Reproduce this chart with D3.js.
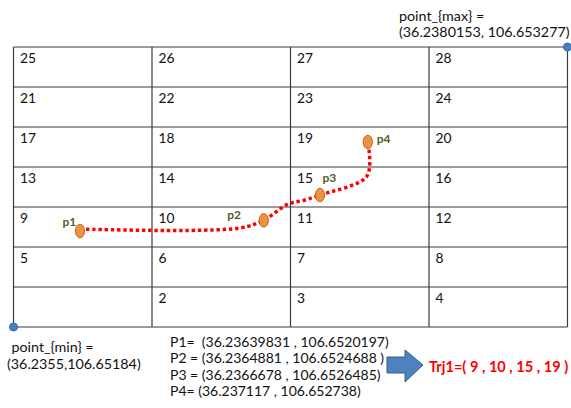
<!DOCTYPE html>
<html><head><meta charset="utf-8">
<script src="https://cdn.jsdelivr.net/npm/d3@7"></script>
<style>
html,body{margin:0;padding:0;background:#fff;}
svg{display:block;font-family:Lato,"Open Sans",sans-serif;}
</style></head>
<body>
<svg id="chart" width="571" height="408"></svg>
<script>
// ---- data ----
const nCols = 4, nRows = 7;
const cellLabels = ["", "2", "3", "4", "5", "6", "7", "8", "9", "10", "11", "12",
  "13", "14", "15", "16", "17", "18", "19", "20", "21", "22", "23", "24", "25", "26", "27", "28"];
const pointNames = ["p1", "p2", "p3", "p4"];
const pointGX = [0.480, 1.807, 2.213, 2.558];
const pointGY = [2.40, 2.667, 3.30, 4.625];
const pathGX = [0.480, 1.635, 1.809, 1.982, 2.105, 2.213, 2.552, 2.558];
const pathGY = [2.45, 2.475, 2.675, 3.075, 3.175, 3.30, 3.775, 4.625];
const coordLines = [
  "P1=  (36.23639831 , 106.6520197)",
  "P2 = (36.2364881 , 106.6524688 )",
  "P3 = (36.2366678 , 106.6526485)",
  "P4= (36.237117 , 106.652738)"
];
const minText = ["point_{min} =", "(36.2355,106.65184)"];
const maxText = ["point_{max} =", "(36.2380153, 106.653277)"];
const trjText = "Trj1=( 9 , 10 , 15 , 19 )";

// ---- drawing ----
const svg = d3.select("#chart");
const x = d3.scaleLinear().domain([0, nCols]).range([13.5, 567.5]);
const y = d3.scaleLinear().domain([0, nRows]).range([327, 47]);

// grid lines
const g = svg.append("g");
g.selectAll("line.v").data(d3.range(nCols + 1)).enter().append("line")
  .attr("x1", d => x(d)).attr("x2", d => x(d)).attr("y1", y(0)).attr("y2", y(nRows))
  .attr("stroke", "#3a3a3a").attr("stroke-width", 1.2);
g.selectAll("line.h").data(d3.range(nRows + 1)).enter().append("line")
  .attr("y1", d => y(d)).attr("y2", d => y(d)).attr("x1", x(0)).attr("x2", x(nCols))
  .attr("stroke", "#3a3a3a").attr("stroke-width", 1.2);

// cell labels
g.selectAll("text.cell").data(cellLabels).enter().append("text")
  .attr("x", (d, i) => x(i % nCols) + 6.5)
  .attr("y", (d, i) => y(Math.floor(i / nCols) + 1) + 16)
  .attr("font-size", 13.8).attr("fill", "#111")
  .text(d => d);

// trajectory
const pts = pathGX.map((v, i) => [x(v), y(pathGY[i])]);
svg.append("path")
  .attr("d", d3.line().curve(d3.curveCatmullRom.alpha(0.5))(pts))
  .attr("fill", "none").attr("stroke", "#ff0000").attr("stroke-width", 3.5)
  .attr("stroke-dasharray", "3.4,2.8");

// points
svg.selectAll("ellipse.pt").data(pointNames).enter().append("ellipse")
  .attr("cx", (d, i) => x(pointGX[i])).attr("cy", (d, i) => y(pointGY[i]))
  .attr("rx", 4.6).attr("ry", 6.8)
  .attr("fill", "#f0913e").attr("stroke", "#b8692a").attr("stroke-width", 1);

const labelOff = [[-17.5, -5], [-36.5, -1], [2.5, -13], [9, 0.5]];
svg.selectAll("text.pl").data(pointNames).enter().append("text")
  .attr("x", (d, i) => x(pointGX[i]) + labelOff[i][0])
  .attr("y", (d, i) => y(pointGY[i]) + labelOff[i][1])
  .attr("font-size", 12).attr("font-weight", "bold").attr("fill", "#4f6228")
  .text(d => d);

// corner points
svg.append("circle").attr("cx", x(0)).attr("cy", y(0)).attr("r", 4)
  .attr("fill", "#4a7cc4").attr("stroke", "#3a66a8");
svg.append("circle").attr("cx", x(nCols)).attr("cy", y(nRows)).attr("r", 4)
  .attr("fill", "#4a7cc4").attr("stroke", "#3a66a8");

// texts
svg.selectAll("text.mx").data(maxText).enter().append("text")
  .attr("x", 399).attr("y", (d, i) => 21 + i * 15.5)
  .attr("font-size", 14.3).attr("fill", "#111").text(d => d);
svg.selectAll("text.mn").data(minText).enter().append("text")
  .attr("x", (d, i) => i === 0 ? 11.5 : 7).attr("y", (d, i) => 352 + i * 16.5)
  .attr("font-size", 14.3).attr("fill", "#111").text(d => d);
svg.selectAll("text.co").data(coordLines).enter().append("text")
  .attr("x", 170).attr("y", (d, i) => 346.5 + i * 16.5)
  .attr("font-size", 14).attr("fill", "#111")
  .style("white-space", "pre").text(d => d);

// arrow
const ax = 387, ay = 365;
const arrowPts = [[ax, ay - 8], [ax + 18, ay - 8], [ax + 18, ay - 15], [ax + 36, ay],
  [ax + 18, ay + 17], [ax + 18, ay + 8], [ax, ay + 8]];
svg.append("path").attr("d", d3.line()(arrowPts) + "Z")
  .attr("fill", "#4f81bd").attr("stroke", "#385d8a").attr("stroke-width", 1);

svg.append("text").attr("x", 429).attr("y", 372)
  .attr("font-size", 14.6).attr("font-weight", "bold").attr("fill", "#ff0000")
  .style("white-space", "pre").text(trjText);
</script>
</body></html>
